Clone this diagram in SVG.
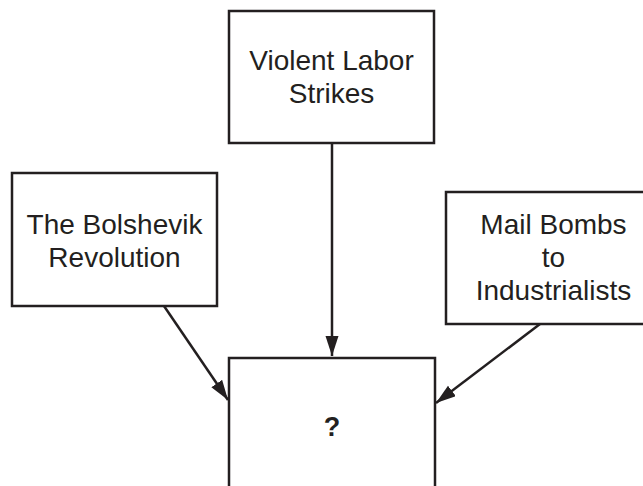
<svg xmlns="http://www.w3.org/2000/svg" width="643" height="486" viewBox="0 0 643 486">
<defs>
<style>
.box{fill:#fff;stroke:#231f20;stroke-width:2.5}
.lbl{font-family:"Liberation Sans",Arial,sans-serif;font-size:28px;fill:#231f20;text-anchor:middle}
.q{font-family:"Liberation Sans",Arial,sans-serif;font-size:27px;font-weight:bold;fill:#231f20;text-anchor:middle}
.conn{stroke:#231f20;stroke-width:2.5;fill:none}
</style>
<marker id="ah" markerUnits="userSpaceOnUse" markerWidth="22" markerHeight="14" refX="20" refY="6.5" orient="auto">
<path d="M0,0 L20,6.5 L0,13 Z" fill="#231f20"/>
</marker>
</defs>
<rect width="643" height="486" fill="#fff"/>
<g id="connectors">
<line class="conn" x1="332" y1="143" x2="332" y2="356" marker-end="url(#ah)"/>
<line class="conn" x1="164" y1="306" x2="228" y2="400" marker-end="url(#ah)"/>
<line class="conn" x1="540" y1="324" x2="436" y2="403" marker-end="url(#ah)"/>
</g>
<g id="node-strikes">
<rect class="box" x="229" y="11" width="205" height="132"/>
<text class="lbl" x="331.5" y="70">Violent Labor</text>
<text class="lbl" x="331.5" y="103">Strikes</text>
</g>
<g id="node-bolshevik">
<rect class="box" x="12" y="173" width="205" height="133"/>
<text class="lbl" x="114.5" y="234">The Bolshevik</text>
<text class="lbl" x="114.5" y="267">Revolution</text>
</g>
<g id="node-mailbombs">
<rect class="box" x="446" y="192" width="215" height="132"/>
<text class="lbl" x="553.5" y="234">Mail Bombs</text>
<text class="lbl" x="553.5" y="267">to</text>
<text class="lbl" x="553.5" y="300">Industrialists</text>
</g>
<g id="node-unknown">
<rect class="box" x="229" y="358" width="206" height="140"/>
<text class="q" x="332" y="436">?</text>
</g>
</svg>
